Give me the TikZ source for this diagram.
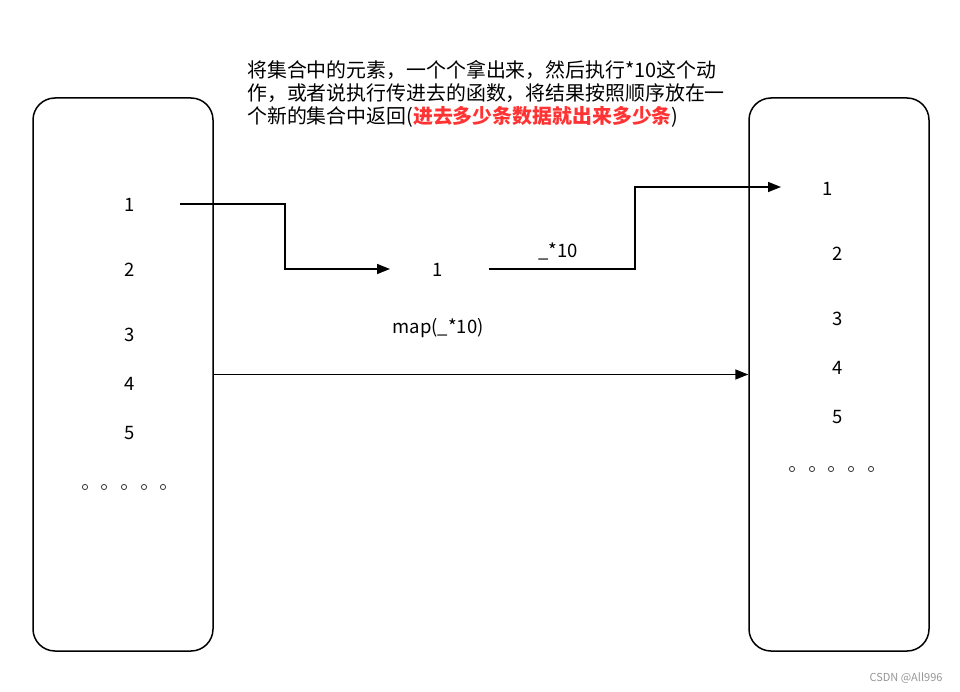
\documentclass[tikz,border=0pt]{standalone}
\usepackage{fontspec}
\setmainfont{Noto Sans CJK SC}
\usepackage{xcolor}
\usepackage{tikz}
\usetikzlibrary{arrows.meta,calc,positioning}
\definecolor{linegrey}{RGB}{0,0,0}
\definecolor{hotred}{RGB}{255,51,51}
\definecolor{markgrey}{RGB}{150,150,150}
\tikzset{
  listbox/.style={draw=linegrey,rounded corners=22pt,line width=1.5pt,
    minimum width=180pt,minimum height=553pt,inner sep=0pt},
  numtext/.style={font=\fontsize{18.5}{21}\selectfont,inner sep=1pt},
  flow/.style={-{Triangle[length=13pt,width=10pt]},line width=1.5pt,draw=linegrey},
  notetext/.style={font=\fontsize{19.9}{23}\selectfont,align=left,inner sep=0pt},
  dotmark/.style={draw=black!80,line width=0.8pt}
}

\begin{document}
\begin{tikzpicture}[x=1pt,y=-1pt]
  \useasboundingbox (0,0) rectangle (960,692);
  % the two collections
  \node[listbox] (lbox) at (123,374.5) {};
  \node[listbox] (rbox) at (839,374.5) {};
  % left items
  \node[numtext] (l1) at (130,205) {1};
  \node[numtext] (l2) at (130,270) {2};
  \node[numtext] (l3) at (130,335) {3};
  \node[numtext] (l4) at (130,384) {4};
  \node[numtext] (l5) at (130,433) {5};
  \foreach \x in {85,104,124,144,163}
    \draw[dotmark] (\x,487) circle (2.6pt);
  % right items
  \node[numtext] (r1) at (828,189) {1};
  \node[numtext] (r2) at (838,254) {2};
  \node[numtext] (r3) at (838,319) {3};
  \node[numtext] (r4) at (838,368) {4};
  \node[numtext] (r5) at (838,417) {5};
  \foreach \x in {792,812,831,851,871}
    \draw[dotmark] (\x,469) circle (2.6pt);
  % the element in transit
  \node[numtext] (m1) at (438,270) {1};
  \node[numtext] (mapfn) at (438,328) {map(\_*10)};
  \coordinate (l1out) at (180,204);
  \coordinate (m1in) at (390,269);
  \coordinate (m1out) at (489,269);
  \coordinate (r1in) at (781,187);
  \draw[flow] (l1out) -| ($(l1out)!0.5!(m1in)$) |- (m1in);
  \draw[flow] (m1out) -| ($(m1out)!0.5!(r1in)$) |- (r1in);
  \node[numtext] (times) at (558,251) {\_*10};
  \draw[flow] (lbox.east) -- (rbox.west);
  % explanation
  \node[notetext,anchor=north west] (note) at (247,60)
    {将集合中的元素，一个个拿出来，然后执行*10这个动\\
     作，或者说执行传进去的函数，将结果按照顺序放在一\\
     个新的集合中返回(\textcolor{hotred}{\bfseries 进去多少条数据就出来多少条})};
  \node[font=\fontsize{11}{13}\selectfont,text=markgrey,anchor=east] (mark)
    at (946,678) {CSDN @All996};
\end{tikzpicture}
\end{document}
